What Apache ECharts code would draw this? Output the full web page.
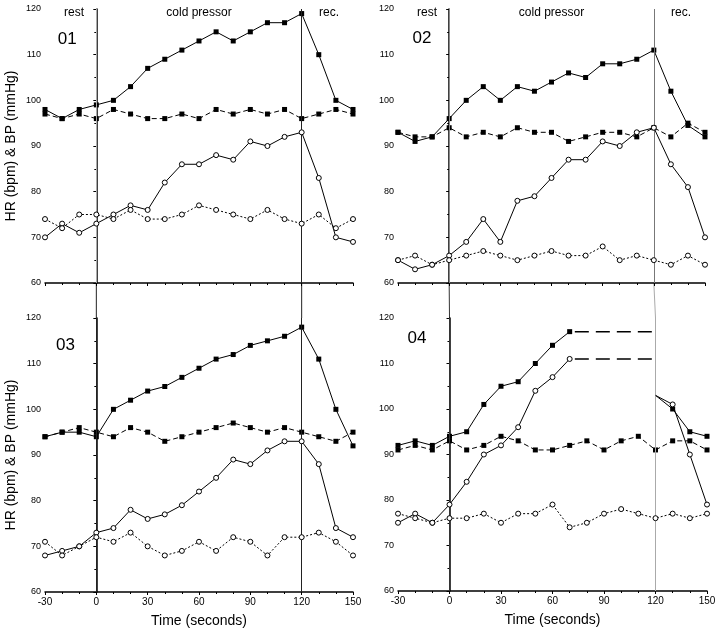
<!DOCTYPE html>
<html><head><meta charset="utf-8">
<script src="https://cdn.jsdelivr.net/npm/echarts@6/dist/echarts.min.js"></script>
<style>html,body{margin:0;padding:0;background:#fff}#c{width:720px;height:636px}</style>
</head><body><div id="c"></div>
<script>
const times = [-30,-20,-10,0,10,20,30,40,50,60,70,80,90,100,110,120,130,140,150];
const xTicks = [-30,0,30,60,90,120,150];
const panelNames = ['01','02','03','04'];
const phaseLabels = ['rest','cold pressor','rec.'];
// Series per panel: A = solid filled squares, B = dashed filled squares, C = solid open circles, D = dotted open circles
const p1A = [98,96,98,99,100,103,107,109,111,113,115,113,115,117,117,119,110,100,98];
const p1B = [97,96,97,96,98,97,96,96,97,96,98,97,98,97,98,96,97,98,97];
const p1C = [70,73,71,73,75,77,76,82,86,86,88,87,91,90,92,93,83,70,69];
const p1D = [74,72,75,75,74,76,74,74,75,77,76,75,74,76,74,73,75,72,74];

const p2A = [93,91,92,96,100,103,100,103,102,104,106,105,108,108,109,111,102,94.5,92];
const p2B = [93,92,92,94,92,93,92,94,93,93,91,92,93,93,92,94,92,95,93];
const p2C = [65,63,64,66,69,74,69,78,79,83,87,87,91,90,93,94,86,81,70];
const p2D = [65,66,64,65,66,67,66,65,66,67,66,66,68,65,66,65,64,66,64];

const p3A = [94,95,95,94,100,102,104,105,107,109,111,112,114,115,116,118,111,100,92];
const p3B = [94,95,96,95,94,96,95,93,94,95,96,97,96,95,96,95,94,93,95];
const p3C = [68,69,70,73,74,78,76,77,79,82,85,89,88,91,93,93,88,74,72];
const p3D = [71,68,70,72,71,73,70,68,69,71,69,72,71,68,72,72,73,71,68];

const p4A = [92,93,92,94,95,101,105,106,110,114,117,null,null,null,null,103,100,95,94];
const p4B = [91,92,91,93,91,92,94,93,91,91,92,93,91,93,94,91,93,93,91];
const p4C = [75,77,75,79,84,90,92,96,104,107,111,null,null,null,null,103,101,90,79];
const p4D = [77,76,75,76,76,77,75,77,77,79,74,75,77,78,77,76,77,76,77];
const plateauT = [73,118];
const plateauA = [117,117];
const plateauC = [111,111];

const panels = [[p1A,p1B,p1C,p1D],[p2A,p2B,p2C,p2D],[p3A,p3B,p3C,p3D],[p4A,p4B,p4C,p4D]];
const FONT = 'Liberation Sans';

const grids = [
  {left:45, top:9, width:308, height:274},
  {left:398, top:9, width:307, height:274},
  {left:45, top:318, width:308, height:274},
  {left:398, top:318, width:309, height:273}
];
const vColors = [['#aaa','#222'],['#888','#777'],['#222','#222'],['#333','#aaa']];

const xAxes = grids.map((g,i)=>({
  type:'value', gridIndex:i, min:-30, max:150, interval:30,
  axisLine:{show:true,onZero:false,lineStyle:{color:'#000',width:1.5}},
  axisTick:{show:true,length:3,lineStyle:{color:'#000'}},
  minorTick:{show:true,splitNumber:3,length:2,lineStyle:{color:'#000'}},
  splitLine:{show:false},
  axisLabel:{show:i>=2,color:'#000',fontSize:10,fontFamily:FONT,margin:5,
    formatter:v=>xTicks.includes(v)?String(v):''},
  name:i>=2?'Time (seconds)':'', nameLocation:'middle', nameGap:22,
  nameTextStyle:{color:'#000',fontSize:14,fontFamily:FONT}
}));
const yAxes = grids.map((g,i)=>({
  type:'value', gridIndex:i, min:60, max:120, interval:10,
  axisLine:{show:true,lineStyle:{color:'#000',width:1.5}},
  axisTick:{show:true,length:3,lineStyle:{color:'#000'}},
  minorTick:{show:true,splitNumber:2,length:2,lineStyle:{color:'#000'}},
  splitLine:{show:false},
  axisLabel:{color:'#000',fontSize:9,fontFamily:FONT,margin:4},
  name:(i%2===0)?'HR (bpm) & BP (mmHg)':'', nameLocation:'middle', nameGap:27,
  nameTextStyle:{color:'#000',fontSize:14,fontFamily:FONT}
}));

function pairs(vals){ return times.map((t,k)=>[t, vals[k]]); }

const series = [];
panels.forEach((set,i)=>{
  const styles = [
    {sym:'rect',size:5,fill:'#000',type:'solid'},
    {sym:'rect',size:5,fill:'#000',type:[5,3]},
    {sym:'circle',size:5,fill:'#fff',type:'solid'},
    {sym:'circle',size:5,fill:'#fff',type:[2,2]}
  ];
  set.forEach((vals,j)=>{
    const st = styles[j];
    let data = pairs(vals);
    if (i===3 && (j===0||j===2)) {
      data = data.map((d,k)=> times[k]===120 ? {value:d,symbol:'none'} : d);
    }
    const s = {
      type:'line', xAxisIndex:i, yAxisIndex:i, data:data,
      symbol:st.sym, symbolSize:st.size, showSymbol:true, connectNulls:false,
      lineStyle:{color:'#000',width:1,type:st.type},
      itemStyle:{color:st.fill,borderColor:'#000',borderWidth:st.sym==='circle'?1:0},
      animation:false, silent:true, z:3+j
    };
    if (j===0) {
      s.markLine = {symbol:'none', silent:true, label:{show:false}, animation:false,
        data:[{xAxis:0,lineStyle:{color:vColors[i][0],width:1,type:'solid'}},
              {xAxis:120,lineStyle:{color:vColors[i][1],width:1,type:'solid'}}]};
    }
    series.push(s);
  });
});
[plateauA, plateauC].forEach(vals=>{
  series.push({type:'line', xAxisIndex:3, yAxisIndex:3,
    data: plateauT.map((t,k)=>[t,vals[k]]), symbol:'none',
    lineStyle:{color:'#000',width:1.5,type:[14,7]}, animation:false, silent:true});
});

const chart = echarts.init(document.getElementById('c'), null, {renderer:'canvas'});
chart.setOption({
  backgroundColor:'#fff', animation:false,
  grid: grids, xAxis: xAxes, yAxis: yAxes, series: series
});

const mctx = document.createElement('canvas').getContext('2d');
function tw(text, font){ mctx.font = font; return mctx.measureText(text).width; }

const g = [];
function px(gi, pt){ return chart.convertToPixel({gridIndex:gi}, pt); }
const phaseX = [-13, 60, 136];
const phaseFont = '12px "'+FONT+'"';
[0,1].forEach(gi=>{
  phaseLabels.forEach((t,k)=>{
    const p = px(gi,[phaseX[k],119]);
    g.push({type:'text', id:'ph'+gi+'_'+k, left:p[0]-tw(t,phaseFont)/2, top:p[1]-7,
      style:{text:t, fill:'#000', font:phaseFont}});
  });
});
const numFont = '17px "'+FONT+'"';
const numPos = [[-17,113.2],[-16,113.4],[-18,114],[-19,115.5]];
[0,1,2,3].forEach(gi=>{
  const p = px(gi,numPos[gi]);
  g.push({type:'text', id:'num'+gi, left:p[0]-tw(panelNames[gi],numFont)/2, top:p[1]-9,
    style:{text:panelNames[gi], fill:'#000', font:numFont}});
});
[[0,2],[1,3]].forEach(([a,b],col)=>{
  [0,120].forEach((xv,k)=>{
    const p1 = px(a,[xv,60]);
    const p2 = px(b,[xv,120]);
    g.push({type:'line', id:'vl'+col+'_'+k, shape:{x1:p1[0],y1:p1[1],x2:p2[0],y2:p2[1]}, style:{stroke:vColors[b][k], lineWidth:1}});
  });
});
chart.setOption({graphic: g});
</script></body></html>
